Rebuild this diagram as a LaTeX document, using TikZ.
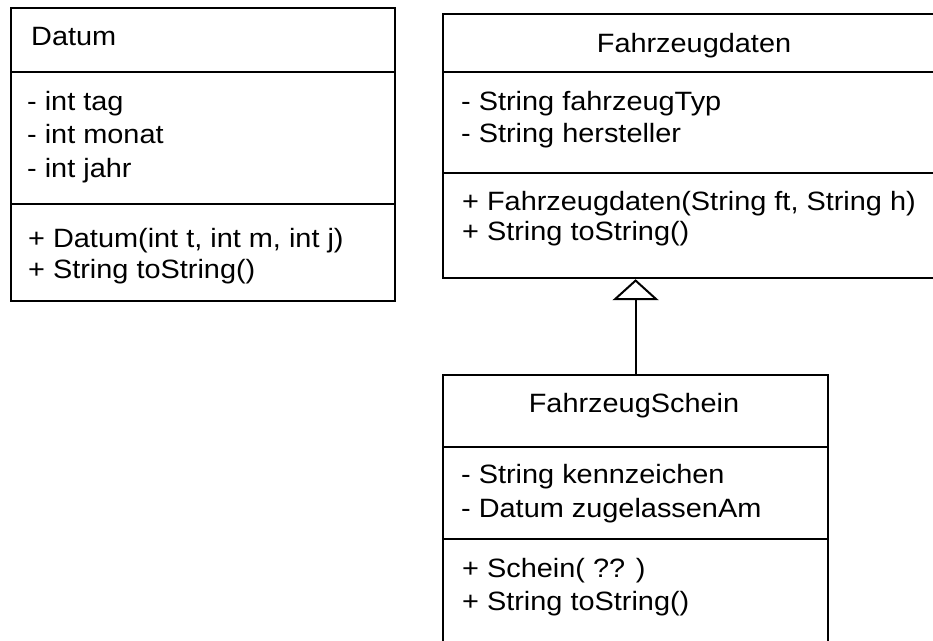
\documentclass[tikz,border=0pt]{standalone}
\usepackage{fontspec}
\setmainfont{Liberation Sans}[FakeStretch=1.09]
\usetikzlibrary{arrows.meta}
\begin{document}
\begin{tikzpicture}[x=1pt,y=-1pt,
  umlbox/.style={draw, line width=2.2pt, inner sep=0pt, anchor=north west},
  sep/.style={line width=2pt},
  txt/.style={anchor=base west, inner sep=0pt, font=\fontsize{26.5}{30}\selectfont},
  ttl/.style={anchor=base, inner sep=0pt, font=\fontsize{26.5}{30}\selectfont},
  inherit/.style={line width=2pt, -{Triangle[open, width=46pt, length=21pt]}}]
\useasboundingbox (0,0) rectangle (933,640);
% Datum
\node[umlbox, minimum width=384pt, minimum height=293pt] (datum) at (10,7) {};
\draw[sep] (datum.west |- 0,72) -- (datum.east |- 0,72);
\draw[sep] (datum.west |- 0,204) -- (datum.east |- 0,204);
\node[txt] (dt) at (31,45) {Datum};
\node[txt] (da1) at (27,110) {- int tag};
\node[txt] (da2) at (27,143) {- int monat};
\node[txt] (da3) at (27,177) {- int jahr};
\node[txt] (dm1) at (28,247) {+ Datum(int t, int m, int j)};
\node[txt] (dm2) at (28,278) {+ String toString()};
% Fahrzeugdaten
\node[umlbox, minimum width=504pt, minimum height=264pt] (daten) at (442,13) {};
\draw[sep] (daten.west |- 0,72) -- (daten.east |- 0,72);
\draw[sep] (daten.west |- 0,173) -- (daten.east |- 0,173);
\node[ttl] (ft) at (694,52) {Fahrzeugdaten};
\node[txt] (fa1) at (461,110) {- String fahrzeugTyp};
\node[txt] (fa2) at (461,142) {- String hersteller};
\node[txt] (fm1) at (462,210) {+ Fahrzeugdaten(String ft, String h)};
\node[txt] (fm2) at (462,240) {+ String toString()};
% FahrzeugSchein
\node[umlbox, minimum width=385pt, minimum height=300pt] (schein) at (442,374) {};
\draw[sep] (schein.west |- 0,447) -- (schein.east |- 0,447);
\draw[sep] (schein.west |- 0,539) -- (schein.east |- 0,539);
\node[ttl] (st) at (634,412) {FahrzeugSchein};
\node[txt] (sa1) at (461,483) {- String kennzeichen};
\node[txt] (sa2) at (461,517) {- Datum zugelassenAm};
\node[txt] (sm1) at (462,577) {+ Schein( ?? )};
\node[txt] (sm2) at (462,610) {+ String toString()};
% inheritance
\draw[inherit] (schein.north) -- (schein.north |- daten.south);
\end{tikzpicture}
\end{document}
